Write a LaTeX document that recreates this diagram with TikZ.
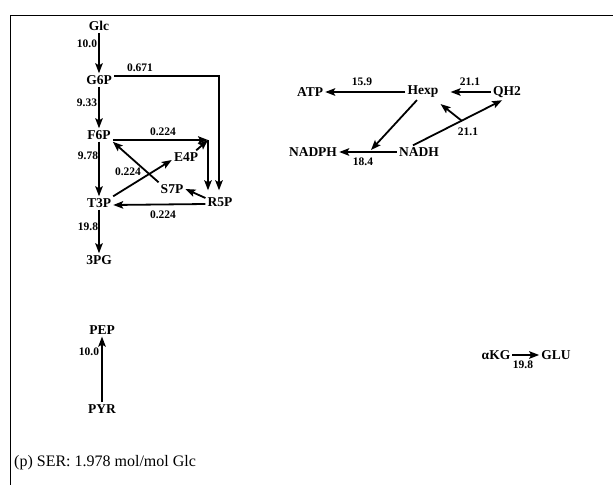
\documentclass[tikz,border=0pt]{standalone}
\usepackage{fontspec}
\setmainfont{Liberation Serif}
\usetikzlibrary{arrows.meta}
\begin{document}
\begin{tikzpicture}[x=1pt,y=-1pt,
  met/.style={font=\fontsize{13.5}{13.5}\selectfont\bfseries, inner sep=2pt},
  flux/.style={font=\fontsize{11.5}{12}\selectfont\bfseries, inner sep=0.5pt},
  arr/.style={line width=1.8pt, -{Stealth[length=10pt,width=7.5pt,inset=2pt]}},
  frame/.style={line width=0.9pt}]
\useasboundingbox (0,0) rectangle (613,485);
\draw[frame] (613,15) -- (10,15) -- (10,485);

% flux labels (drawn first, arrows overlap them)
\node[flux] (l1) at (87,44) {10.0};
\node[flux] (l2) at (87,103) {9.33};
\node[flux] (l3) at (88,156) {9.78};
\node[flux] (l4) at (88,227) {19.8};
\node[flux] (l5) at (140,68) {0.671};
\node[flux] (l6) at (163,132) {0.224};
\node[flux] (l7) at (128,172) {0.224};
\node[flux] (l8) at (163,215) {0.224};
\node[flux] (l9) at (362,82) {15.9};
\node[flux] (l10) at (470,82) {21.1};
\node[flux] (l11) at (468,132) {21.1};
\node[flux] (l12) at (363,162) {18.4};
\node[flux] (l13) at (89,352) {10.0};
\node[flux] (l14) at (523,365) {19.8};

% metabolites
\node[met] (Glc) at (99,26) {Glc};
\node[met] (G6P) at (99,80) {G6P};
\node[met] (F6P) at (99,135) {F6P};
\node[met] (T3P) at (99,203) {T3P};
\node[met] (PG3) at (99,260) {3PG};
\node[met] (E4P) at (186,157) {E4P};
\node[met] (S7P) at (172,189) {S7P};
\node[met] (R5P) at (220,202) {R5P};

\node[met] (ATP) at (310,92) {ATP};
\node[met] (Hexp) at (423,92) {Hexp};
\node[met] (QH2) at (507,92) {QH2};
\node[met] (NADPH) at (313,152) {NADPH};
\node[met] (NADH) at (419,152) {NADH};

\node[met] (PEP) at (102,330) {PEP};
\node[met] (PYR) at (102,409) {PYR};
\node[met] (aKG) at (496,355) {αKG};
\node[met] (GLU) at (556,355) {GLU};

\node[anchor=west, font=\fontsize{16}{16}\selectfont, inner sep=0pt] (cap) at (14,463) {(p) SER: 1.978 mol/mol Glc};

\coordinate (J) at (208,140);
\coordinate (K) at (371,150);
\coordinate (M) at (462,121);

% glycolysis
\draw[arr] (Glc) -- (G6P);
\draw[arr] (G6P) -- (F6P);
\draw[arr] (F6P) -- (T3P);
\draw[arr] (T3P) -- (PG3);
\draw[arr] (PYR) -- (PEP);

% pentose phosphate
\draw[arr, shorten >=5pt] ([yshift=4pt]G6P.east) -| ([xshift=-1pt]R5P.north);
\draw[arr] ([yshift=-5pt]F6P.east) -- (J);
\draw[arr] ([xshift=-4pt]E4P.north east) -- (J);
\draw[arr, shorten >=5pt] (J) -- (J |- R5P.north);
\draw[arr] ([yshift=4pt]R5P.west) -- (S7P.east);
\draw[arr] (S7P.north west) -- (F6P.south east);
\draw[arr] (T3P.north east) -- ([yshift=-3pt]E4P.west);
\draw[arr] ([yshift=-2pt]R5P.west) -- ([yshift=-2pt]T3P.east);

% energy
\draw[arr] (Hexp) -- (ATP);
\draw[arr, shorten >=10pt] (QH2) -- (Hexp);
\draw[arr] ([xshift=-6pt]Hexp.south) -- (K);
\draw[arr] (NADH) -- (NADPH);
\draw[arr, shorten >=1pt] ([xshift=-6pt]NADH.north) -- ([xshift=-4pt]QH2.south);
\draw[arr] (M) -- ([yshift=-4pt]Hexp.south east);

\draw[arr] (aKG) -- (GLU);
\end{tikzpicture}
\end{document}
